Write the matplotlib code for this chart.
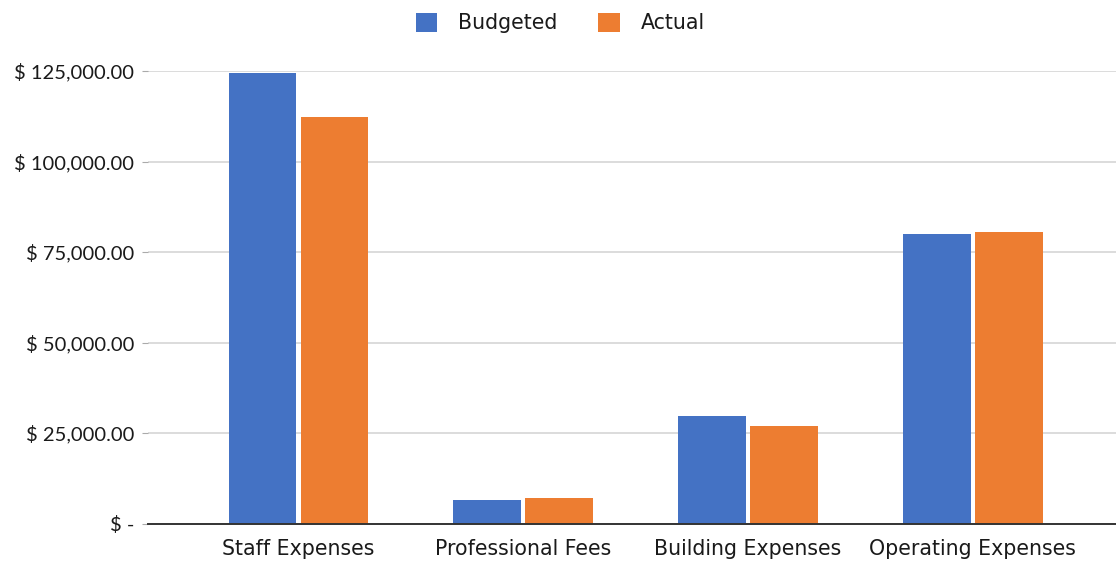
import numpy as np
import matplotlib.pyplot as plt
from matplotlib.ticker import FuncFormatter

categories = ['Staff Expenses', 'Professional Fees', 'Building Expenses', 'Operating Expenses']
budgeted = [124500, 6500, 29800, 80000]
actual = [112300, 7000, 26900, 80500]

def money(v, pos):
    if v == 0:
        return '$ -'
    return '$ {:,.2f}'.format(v)

fig = plt.figure(figsize=(11.16, 5.61), dpi=100)
ax = fig.add_axes([148/1116, 1 - 523.5/561, (1116-148)/1116, (523.5-71)/561])

x = np.arange(len(categories))
w = 0.302
ax.bar(x - 0.158, budgeted, w, color='#4472C4', label='Budgeted', zorder=3)
ax.bar(x + 0.162, actual, w, color='#ED7D31', label='Actual', zorder=3)

ax.set_xlim(-0.667, 3.636)
ax.set_ylim(0, 125000)
ax.set_yticks([0, 25000, 50000, 75000, 100000, 125000])
ax.yaxis.set_major_formatter(FuncFormatter(money))
ax.set_xticks(x)
ax.set_xticklabels(categories, fontfamily='DejaVu Sans', fontsize=14.8, color='#1a1a1a')
for t in ax.get_yticklabels():
    t.set_fontfamily('Lato')
    t.set_fontsize(14.5)
    t.set_color('#1a1a1a')

ax.grid(axis='y', color='#d9d9d9', lw=1.3, zorder=0)
ax.set_axisbelow(True)
for s in ['top', 'right', 'left']:
    ax.spines[s].set_visible(False)
ax.spines['bottom'].set_color('#333333')
ax.spines['bottom'].set_linewidth(1.4)
ax.spines['bottom'].set_zorder(4)
ax.tick_params(axis='x', length=0, pad=11)
ax.tick_params(axis='y', length=4, color='#aaaaaa', pad=6)

fig.legend(loc='upper center', bbox_to_anchor=(0.502, 1.01), ncol=2, frameon=False,
           prop={'family': 'DejaVu Sans', 'size': 14.8}, handlelength=1.05, handleheight=1.05,
           columnspacing=2.0, handletextpad=1.0, labelcolor='#1a1a1a')

fig.savefig('out.png', dpi=100)
